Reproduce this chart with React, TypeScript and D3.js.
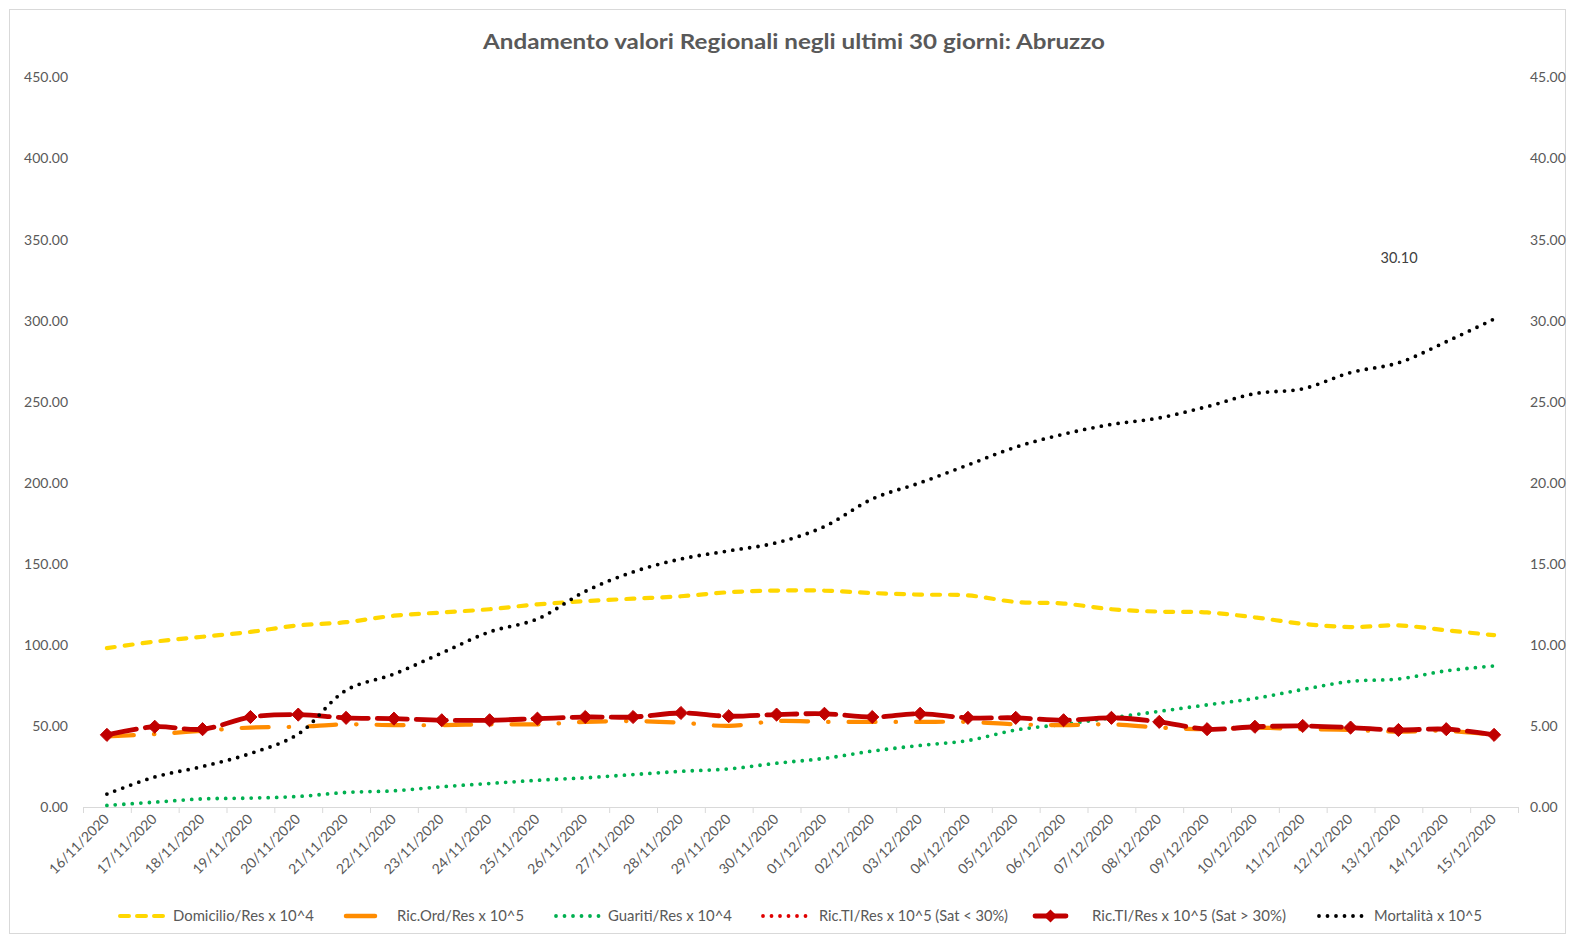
import React from "react";
import * as d3 from "d3";

const dates = [
  "16/11/2020","17/11/2020","18/11/2020","19/11/2020","20/11/2020","21/11/2020","22/11/2020","23/11/2020","24/11/2020","25/11/2020",
  "26/11/2020","27/11/2020","28/11/2020","29/11/2020","30/11/2020","01/12/2020","02/12/2020","03/12/2020","04/12/2020","05/12/2020",
  "06/12/2020","07/12/2020","08/12/2020","09/12/2020","10/12/2020","11/12/2020","12/12/2020","13/12/2020","14/12/2020","15/12/2020",
];

// left axis series
const domicilio = [98,102,105,108,112,114,118,120,122,125,127,128.5,130,132.5,133.5,133.5,132,131,130.5,126.5,125.5,122,120.5,120,117,113,111,112,109,106];
const ricOrd = [43.5,45,47,49,49.5,51,50.5,50.5,51,51,52.5,53,52,50,53,52.5,52.5,52.5,52.5,51,50.5,51,49,48,49,48,47.5,46.5,47,44.5];
const guariti = [1,3,5,5.5,6.5,9,10,12.5,14.5,16.5,18,20,22,23.5,27,30,34.5,38,41,47.5,51,55,59,63,67,72.5,77.5,79,84,87];
// right axis series
const ricTIlow: (number | null)[] = dates.map(() => null);
const ricTIhigh = [4.45,4.95,4.8,5.55,5.7,5.5,5.45,5.35,5.35,5.45,5.55,5.55,5.8,5.6,5.7,5.75,5.55,5.75,5.5,5.5,5.35,5.5,5.25,4.8,4.95,5.0,4.9,4.75,4.8,4.45];
const mortalita = [0.8,1.85,2.5,3.3,4.5,7.2,8.2,9.5,10.8,11.6,13.3,14.5,15.3,15.8,16.3,17.3,19.0,20.0,21.1,22.2,23.0,23.6,24.0,24.7,25.5,25.8,26.8,27.4,28.7,30.1];

const leftTicks = [0,50,100,150,200,250,300,350,400,450];
const rightTicks = [0,5,10,15,20,25,30,35,40,45];

const title = "Andamento valori Regionali negli ultimi 30 giorni: Abruzzo";
const legendLabels = [
  "Domicilio/Res x 10^4",
  "Ric.Ord/Res x 10^5",
  "Guariti/Res x 10^4",
  "Ric.TI/Res x 10^5 (Sat < 30%)",
  "Ric.TI/Res x 10^5 (Sat > 30%)",
  "Mortalità x 10^5",
];

const W = 1573, H = 940;
const FONT = "Lato, 'Open Sans', sans-serif";
const TXT = "#595959";
const LEG_Y = 916;

export default function App() {
  const x = d3.scaleBand<string>().domain(dates).range([83, 1518]);
  const cx = (i: number) => (x(dates[i]) as number) + x.bandwidth() / 2;
  const yL = d3.scaleLinear().domain([0, 450]).range([807, 77.5]);
  const yR = d3.scaleLinear().domain([0, 45]).range([807, 77.5]);

  const mk = (vals: (number | null)[], y: d3.ScaleLinear<number, number>) =>
    d3.line<number | null>()
      .defined((d) => d != null)
      .x((_, i) => cx(i))
      .y((d) => y(d as number))
      .curve(d3.curveCatmullRom.alpha(0.5))(vals) || "";

  const diamond = d3.symbol().type(d3.symbolDiamond2).size(110)() || "";

  const legendItems = [
    { x0: 120, x1: 165, tx: 173, w: 141, style: { stroke: "#FFD700", strokeWidth: 4, strokeDasharray: "9 8", strokeLinecap: "round" as const } },
    { x0: 346, x1: 375, tx: 397, w: 127, style: { stroke: "#FF8C00", strokeWidth: 4.5, strokeLinecap: "round" as const } },
    { x0: 556, x1: 601, tx: 608, w: 124, style: { stroke: "#00B050", strokeWidth: 3.8, strokeDasharray: "0 8.5", strokeLinecap: "round" as const } },
    { x0: 763, x1: 809, tx: 819, w: 189, style: { stroke: "#E00000", strokeWidth: 3.8, strokeDasharray: "0 8.5", strokeLinecap: "round" as const } },
    { x0: 1035, x1: 1066, tx: 1092, w: 194, style: { stroke: "#C00000", strokeWidth: 4.8, strokeLinecap: "round" as const }, marker: true },
    { x0: 1319, x1: 1366, tx: 1374, w: 108, style: { stroke: "#000000", strokeWidth: 3.8, strokeDasharray: "0 8.5", strokeLinecap: "round" as const } },
  ];

  const lastI = dates.length - 1;

  return (
    <svg width={W} height={H} style={{ position: "absolute", left: 0, top: 0, background: "#fff" }}>
      <rect x={9.5} y={9.5} width={1556} height={924} fill="#fff" stroke="#d9d9d9" />
      <text x={794} y={49} textAnchor="middle" fontFamily={FONT} fontWeight="bold" fontSize={21.5} fill={TXT} textLength={622} lengthAdjust="spacingAndGlyphs">{title}</text>

      {leftTicks.map((t) => (
        <text key={"l" + t} x={68} y={yL(t)} dy="0.35em" textAnchor="end" fontFamily={FONT} fontSize={14} fill={TXT}>{t.toFixed(2)}</text>
      ))}
      {rightTicks.map((t) => (
        <text key={"r" + t} x={1530} y={yR(t)} dy="0.35em" textAnchor="start" fontFamily={FONT} fontSize={14} fill={TXT}>{t.toFixed(2)}</text>
      ))}

      <line x1={83} x2={1518} y1={807.5} y2={807.5} stroke="#d9d9d9" strokeWidth={1} />
      {dates.map((d) => (
        <line key={"t" + d} x1={(x(d) as number) + 0.5} x2={(x(d) as number) + 0.5} y1={807} y2={813} stroke="#d9d9d9" />
      ))}
      <line x1={1518.5} x2={1518.5} y1={807} y2={813} stroke="#d9d9d9" />
      {dates.map((d, i) => (
        <text key={"x" + d} transform={`translate(${cx(i) + 3},${820}) rotate(-45)`} textAnchor="end" fontFamily={FONT} fontSize={14} fill={TXT}>{d}</text>
      ))}

      <path d={mk(guariti, yL)} fill="none" stroke="#00B050" strokeWidth={3.8} strokeDasharray="0 8.5" strokeLinecap="round" />
      <path d={mk(domicilio, yL)} fill="none" stroke="#FFD700" strokeWidth={4.2} strokeDasharray="8 10" strokeLinecap="round" />
      <path d={mk(ricOrd, yL)} fill="none" stroke="#FF8C00" strokeWidth={4.2} strokeDasharray="27 20 0.5 20" strokeLinecap="round" />
      <path d={mk(ricTIlow, yR)} fill="none" stroke="#E00000" strokeWidth={3.5} strokeDasharray="0 8" strokeLinecap="round" />
      <path d={mk(ricTIhigh, yR)} fill="none" stroke="#C00000" strokeWidth={4.8} strokeDasharray="30 9" strokeLinecap="round" />
      {ricTIhigh.map((v, i) => (
        <path key={"m" + i} d={diamond} transform={`translate(${cx(i)},${yR(v)})`} fill="#C00000" stroke="#C00000" strokeWidth={1} />
      ))}
      <path d={mk(mortalita, yR)} fill="none" stroke="#000" strokeWidth={3.8} strokeDasharray="0 8.5" strokeLinecap="round" />
      <text x={cx(lastI) - 95} y={yR(mortalita[lastI]) - 61} dy="0.35em" textAnchor="middle" fontFamily={FONT} fontSize={14.5} fill="#404040">{mortalita[lastI].toFixed(2)}</text>

      {legendItems.map((it, i) => (
        <g key={"lg" + i}>
          <line x1={it.x0} x2={it.x1} y1={LEG_Y} y2={LEG_Y} {...it.style} />
          {it.marker && <path d={diamond} transform={`translate(${(it.x0 + it.x1) / 2},${LEG_Y})`} fill="#C00000" />}
          <text x={it.tx} y={LEG_Y} dy="0.35em" fontFamily={FONT} fontSize={15} fill={TXT} textLength={it.w} lengthAdjust="spacingAndGlyphs">{legendLabels[i]}</text>
        </g>
      ))}
    </svg>
  );
}
